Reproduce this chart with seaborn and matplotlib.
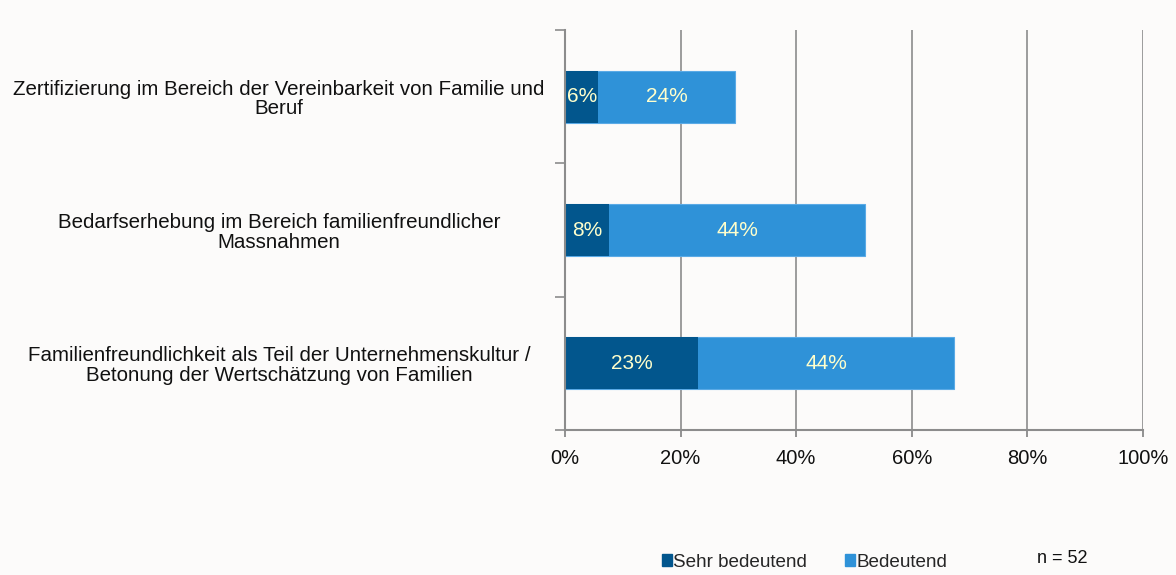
import matplotlib
matplotlib.use("Agg")
import matplotlib.pyplot as plt
import seaborn as sns
import pandas as pd
import numpy as np
from matplotlib.patches import Patch

categories = [
    "Zertifizierung im Bereich der Vereinbarkeit von Familie und\nBeruf",
    "Bedarfserhebung im Bereich familienfreundlicher\nMassnahmen",
    "Familienfreundlichkeit als Teil der Unternehmenskultur /\nBetonung der Wertschätzung von Familien",
]
sehr_bedeutend = [5.8, 7.7, 23.1]
bedeutend = [23.6, 44.2, 44.2]
sehr_labels = ["6%", "8%", "23%"]
bed_labels = ["24%", "44%", "44%"]
series_names = ["Sehr bedeutend", "Bedeutend"]
xticks = [0, 20, 40, 60, 80, 100]
n_text = "n = 52"

dark = "#02568D"
light = "#2F92D8"
bg = "#FCFBFA"
label_color = "#FFFFCC"

sns.set_theme(style="white")
plt.rcParams["font.family"] = ["Liberation Sans", "DejaVu Sans"]

df = pd.DataFrame({
    "cat": categories,
    "sehr": sehr_bedeutend,
    "bed": bedeutend,
})
df["total"] = df["sehr"] + df["bed"]

fig = plt.figure(figsize=(11.76, 5.75), dpi=100, facecolor=bg)
ax = fig.add_axes([0.4804, 0.2522, 0.4915, 0.6956])
ax.set_facecolor(bg)

sns.barplot(data=df, y="cat", x="total", orient="h", color=light, width=0.39,
            saturation=1, ax=ax, edgecolor="#5AAAE6", linewidth=0.8)
sns.barplot(data=df, y="cat", x="sehr", orient="h", color=dark, width=0.39,
            saturation=1, ax=ax, linewidth=0)

ax.set_xlim(0, 100)
ax.set_ylim(2.5, -0.5)
ax.set_xticks(xticks)
ax.set_xticklabels([f"{t}%" for t in xticks], fontsize=14.5, color="#111111")
ax.set_yticks(range(len(categories)))
ax.set_yticklabels(categories, fontsize=14.8, color="#111111", ha="center",
                   multialignment="center", linespacing=1.05)
ax.tick_params(axis="y", which="major", pad=0, length=0)
for lab in ax.get_yticklabels():
    lab.set_x(-0.495)
ax.tick_params(axis="x", bottom=True, length=5, color="#808080", width=1.2,
               pad=9, direction="out")
ax.set_xlabel("")
ax.set_ylabel("")

for x in xticks[1:]:
    ax.axvline(x, color="#8C8C8C", lw=1.2, zorder=0)
ax.set_axisbelow(True)

for side in ["top", "right"]:
    ax.spines[side].set_visible(False)
for side in ["left", "bottom"]:
    ax.spines[side].set_color("#8C8C8C")
    ax.spines[side].set_linewidth(1.5)

# minor y ticks between categories on left spine
ax.set_yticks([-0.5, 0.5, 1.5, 2.5], minor=True)
ax.tick_params(axis="y", which="minor", left=True, length=7, width=1.2,
               color="#8C8C8C", direction="out")

for i in range(len(categories)):
    ax.text(sehr_bedeutend[i] / 2, i, sehr_labels[i], ha="center", va="center",
            color=label_color, fontsize=15)
    ax.text(sehr_bedeutend[i] + bedeutend[i] / 2, i, bed_labels[i], ha="center",
            va="center", color=label_color, fontsize=15)

handles = [Patch(color=dark), Patch(color=light)]
leg = fig.legend(handles, series_names, loc="center left",
                 bbox_to_anchor=(0.5625, 0.022), ncol=2, frameon=False,
                 fontsize=13.6, handlelength=0.55, handleheight=0.6,
                 handletextpad=0.05, columnspacing=2.03, borderaxespad=0,
                 borderpad=0)
fig.text(0.8815, 0.028, n_text, fontsize=13, color="#111111", va="center")

fig.savefig("out.png", dpi=100, facecolor=bg)
